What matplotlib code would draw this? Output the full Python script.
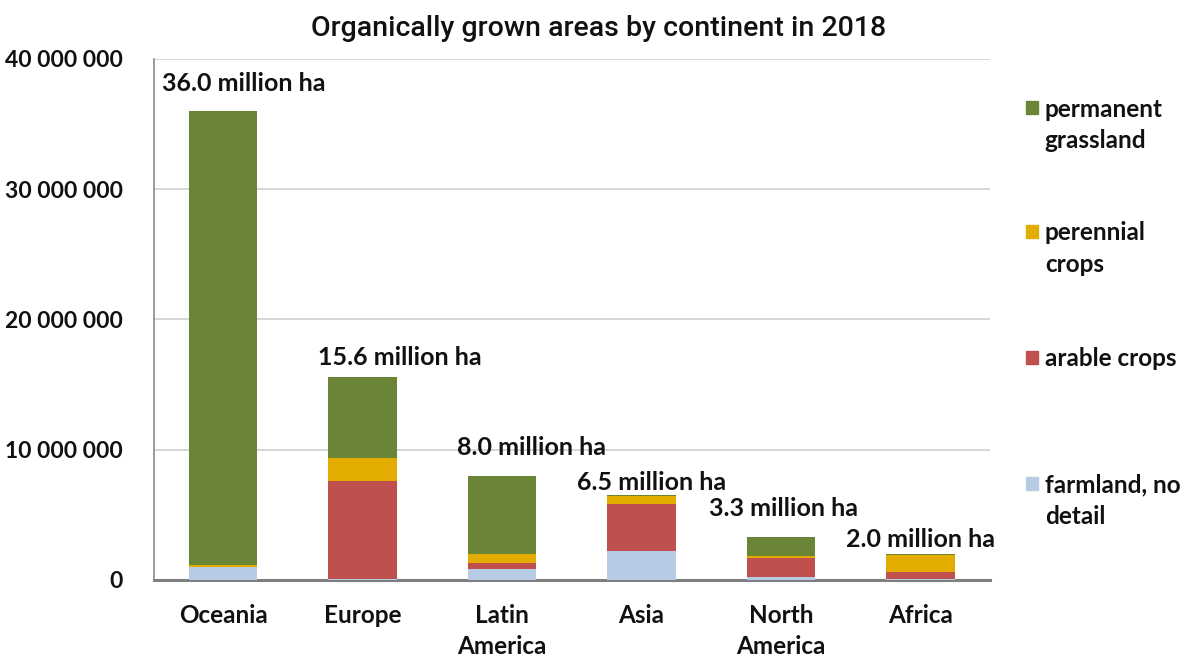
import matplotlib.pyplot as plt
from matplotlib.patches import Rectangle
from matplotlib.ticker import FuncFormatter

# hectares per continent, split by land use
continents = ["Oceania", "Europe", "Latin\nAmerica", "Asia", "North\nAmerica", "Africa"]
farmland_no_detail = [1.00e6, 0.10e6, 0.87e6, 2.25e6, 0.23e6, 0.10e6]
arable_crops = [0.02e6, 7.47e6, 0.41e6, 3.56e6, 1.46e6, 0.51e6]
perennial_crops = [0.15e6, 1.77e6, 0.69e6, 0.60e6, 0.18e6, 1.29e6]
permanent_grassland = [34.83e6, 6.26e6, 6.03e6, 0.09e6, 1.43e6, 0.10e6]

series_names = ["farmland, no\ndetail", "arable crops", "perennial\ncrops", "permanent\ngrassland"]
colors = ["#B7CCE4", "#C0504D", "#E2AC00", "#6A8535"]

# where the total labels sit relative to the bar top (x in category units, y in ha)
label_dx = [0.15, 0.27, 0.21, 0.07, 0.02, 0.0]
label_dy = [2.1e6, 1.5e6, 2.2e6, 1.0e6, 2.2e6, 1.1e6]

font = "Lato"

fig = plt.figure(figsize=(11.9, 6.59), dpi=100)
ax = fig.add_axes([0.129, 0.12, 0.703, 0.7905])

x = range(len(continents))
series = [farmland_no_detail, arable_crops, perennial_crops, permanent_grassland]
bottom = [0.0] * len(continents)
for vals, col in zip(series, colors):
    ax.bar(x, vals, width=0.49, bottom=bottom, color=col, zorder=3)
    bottom = [b + v for b, v in zip(bottom, vals)]

totals = bottom
for i, t in enumerate(totals):
    ax.text(i + label_dx[i], t + label_dy[i], f"{t / 1e6:.1f} million ha",
            ha="center", va="center", fontsize=18, fontweight="bold",
            family=font, color="#111111", zorder=4)

ax.set_xlim(-0.5, 5.5)
ax.set_ylim(0, 40e6)
ax.set_yticks([0, 10e6, 20e6, 30e6, 40e6])
ax.yaxis.set_major_formatter(FuncFormatter(lambda v, p: f"{int(v):,}".replace(",", " ")))
ax.set_xticks(list(x))
ax.set_xticklabels(continents)
ax.tick_params(axis="y", length=0, labelsize=16.5, pad=22)
ax.tick_params(axis="x", length=0, labelsize=17.5, pad=17)
for lab in ax.get_xticklabels() + ax.get_yticklabels():
    lab.set_fontweight("bold")
    lab.set_family(font)
    lab.set_color("#111111")
for lab in ax.get_xticklabels():
    lab.set_ha("center")
    lab.set_multialignment("center")
    lab.set_linespacing(1.45)

ax.grid(axis="y", color="#D0D0D0", linewidth=1.2, zorder=0)
ax.spines["top"].set_visible(False)
ax.spines["right"].set_visible(False)
ax.spines["left"].set_color("#8C8C8C")
ax.spines["left"].set_linewidth(1.2)
ax.spines["bottom"].set_color("#7F7F7F")
ax.spines["bottom"].set_linewidth(2.2)

fig.text(0.503, 0.957, "Organically grown areas by continent in 2018",
         ha="center", va="center", fontsize=20.5, fontweight="medium",
         family="Roboto", color="#111111")

# legend drawn by hand so the square lines up with the first text line
legend_y = [0.836, 0.648, 0.457, 0.266]
for name, col, ly in zip(series_names[::-1], colors[::-1], legend_y):
    fig.patches.append(Rectangle((0.862, ly - 0.009), 0.0105, 0.019,
                                 transform=fig.transFigure, color=col))
    fig.text(0.878, ly + 0.016, name, ha="left", va="top", fontsize=17.5,
             fontweight="bold", family=font, color="#111111", linespacing=1.45)

fig.savefig("out.png", dpi=100)
